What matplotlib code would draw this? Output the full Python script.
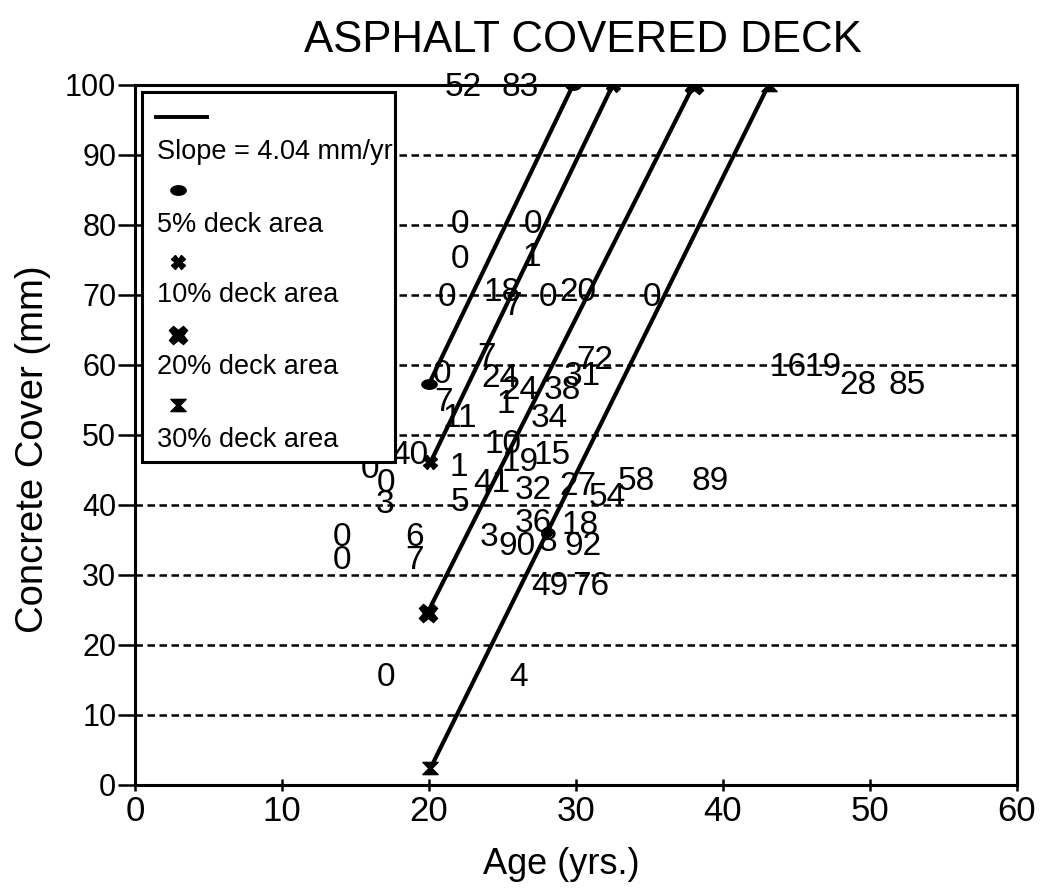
import matplotlib
matplotlib.use("Agg")
import matplotlib.pyplot as plt
from matplotlib.path import Path
from matplotlib.patches import Rectangle
import numpy as np

# ---------------- data ----------------
title = "ASPHALT COVERED DECK"
x_label = "Age (yrs.)"
y_label = "Concrete Cover (mm)"
x_ticks = [0, 10, 20, 30, 40, 50, 60]
y_ticks = [0, 10, 20, 30, 40, 50, 60, 70, 80, 90, 100]
grid_levels = [10, 20, 30, 40, 50, 60, 70, 80, 90]

# numbers printed on the chart (value text, age, cover)
label_text = ["52", "83", "0", "0", "0", "1", "0", "18", "7", "0", "20", "0",
              "0", "7", "24", "24", "1", "38", "31", "72", "7", "11", "34",
              "10", "19", "15", "40", "0", "0", "3", "1", "41", "5", "32",
              "27", "54", "58", "89", "36", "18", "3", "90", "8", "92",
              "0", "0", "6", "7", "49", "76", "0", "4",
              "16", "19", "28", "85"]
label_age = [22.3, 26.2, 22.1, 27.1, 22.1, 27.0, 21.2, 25.0, 25.7, 28.1, 30.1, 35.2,
             20.9, 23.9, 24.8, 26.2, 25.2, 29.1, 30.4, 31.3, 21.0, 22.1, 28.2,
             25.0, 26.2, 28.4, 18.7, 16.0, 17.1, 17.0, 22.0, 24.3, 22.1, 27.1,
             30.1, 32.1, 34.1, 39.1, 27.1, 30.3, 24.1, 26.0, 28.1, 30.5,
             14.1, 14.1, 19.0, 19.0, 28.2, 31.0, 17.1, 26.1,
             44.4, 46.8, 49.2, 52.5]
label_cover = [99.7, 99.7, 80.0, 80.0, 75.0, 75.3, 69.6, 70.3, 68.3, 69.6, 70.3, 69.7,
               58.6, 61.0, 58.1, 56.4, 54.3, 56.4, 58.3, 60.7, 54.7, 52.4, 52.4,
               48.6, 46.1, 47.1, 47.1, 45.0, 43.1, 40.0, 45.3, 43.1, 40.4, 42.1,
               42.6, 41.1, 43.3, 43.3, 37.4, 37.1, 35.3, 34.0, 34.6, 34.0,
               35.4, 32.1, 35.3, 32.1, 28.3, 28.3, 15.3, 15.3,
               59.6, 59.7, 57.1, 57.1]

# fitted lines (slope about 4.04 mm/yr)
slope_label = "Slope = 4.04 mm/yr"
series_names = ["5% deck area", "10% deck area", "20% deck area", "30% deck area"]
line_age_start = [20.0, 20.1, 19.9, 20.1]
line_cover_start = [57.3, 46.1, 24.6, 2.4]
line_age_end = [29.8, 32.5, 38.0, 43.1]
line_cover_end = [100.0, 100.0, 100.0, 100.0]

extra_age = [28.0]
extra_cover = [36.1]

# ---------------- styles ----------------
regular = ["Liberation Sans", "DejaVu Sans"]

t = np.linspace(0, 2 * np.pi, 41)
ellipse = Path(np.c_[np.cos(t), 0.62 * np.sin(t)], closed=True)
hourglass = Path([(-1, 0.8), (1, 0.8), (0.2, 0), (1, -0.8), (-1, -0.8), (-0.2, 0), (-1, 0.8)],
                 [Path.MOVETO] + [Path.LINETO] * 5 + [Path.CLOSEPOLY])
markers = [(ellipse, 11), ("X", 10), ("X", 13), (hourglass, 11)]

fig = plt.figure(figsize=(10.49, 8.9), dpi=100)
ax = fig.add_axes([0.1287, 0.118, 0.8408, 0.7865])
ax.set_xlim(0, 60)
ax.set_ylim(0, 100)

for g in grid_levels:
    ax.axhline(g, color="black", lw=1.8, dashes=(3, 1.8), zorder=1)

for i in range(len(series_names)):
    mk, ms = markers[i]
    ax.plot([line_age_start[i], line_age_end[i]], [line_cover_start[i], line_cover_end[i]],
            color="black", lw=3.0, marker=mk, ms=ms, mfc="black", mec="black", zorder=3,
            solid_capstyle="butt")

ax.plot(extra_age, extra_cover, ls="none", marker="o", ms=7, color="black", zorder=3)

for s, xv, yv in zip(label_text, label_age, label_cover):
    ax.text(xv, yv, s, ha="center", va="center", fontsize=24, family=regular, zorder=4)

# legend box (handles above labels, as in the original)
ax.add_patch(Rectangle((0.48, 46.1), 17.2, 52.9, facecolor="white", edgecolor="black",
                       lw=2.2, zorder=5))
ax.plot([1.4, 4.9], [95.4, 95.4], color="black", lw=2.8, zorder=6)
ax.text(1.5, 90.4, slope_label, ha="left", va="center", fontsize=19.5, family=regular, zorder=6)
leg_marker_y = [85.0, 74.7, 64.3, 54.3]
leg_text_y = [80.0, 70.0, 59.7, 49.3]
for i, name in enumerate(series_names):
    mk, ms = markers[i]
    ax.plot([2.9], [leg_marker_y[i]], ls="none", marker=mk, ms=ms, color="black", zorder=6)
    ax.text(1.5, leg_text_y[i], name, ha="left", va="center", fontsize=19.5,
            family=regular, zorder=6)

for sp in ax.spines.values():
    sp.set_linewidth(2.2)

ax.set_xticks(x_ticks)
ax.set_yticks(y_ticks)
ax.tick_params(axis="y", direction="out", length=12.5, width=1.8, pad=1, labelsize=22)
ax.tick_params(axis="x", direction="inout", length=9, width=1.8, pad=3, labelsize=25)
for lab in ax.get_yticklabels() + ax.get_xticklabels():
    lab.set_family(regular)

ax.set_xlabel(x_label, fontsize=26, family=regular)
ax.xaxis.set_label_coords(0.483, -0.088)
ax.set_ylabel(y_label, fontsize=27.5, family=regular)
ax.yaxis.set_label_coords(-0.095, 0.48)
fig.text(0.556, 0.955, title, ha="center", va="center", fontsize=31.5, family=regular)

fig.savefig("out.png", dpi=100, facecolor="white")
